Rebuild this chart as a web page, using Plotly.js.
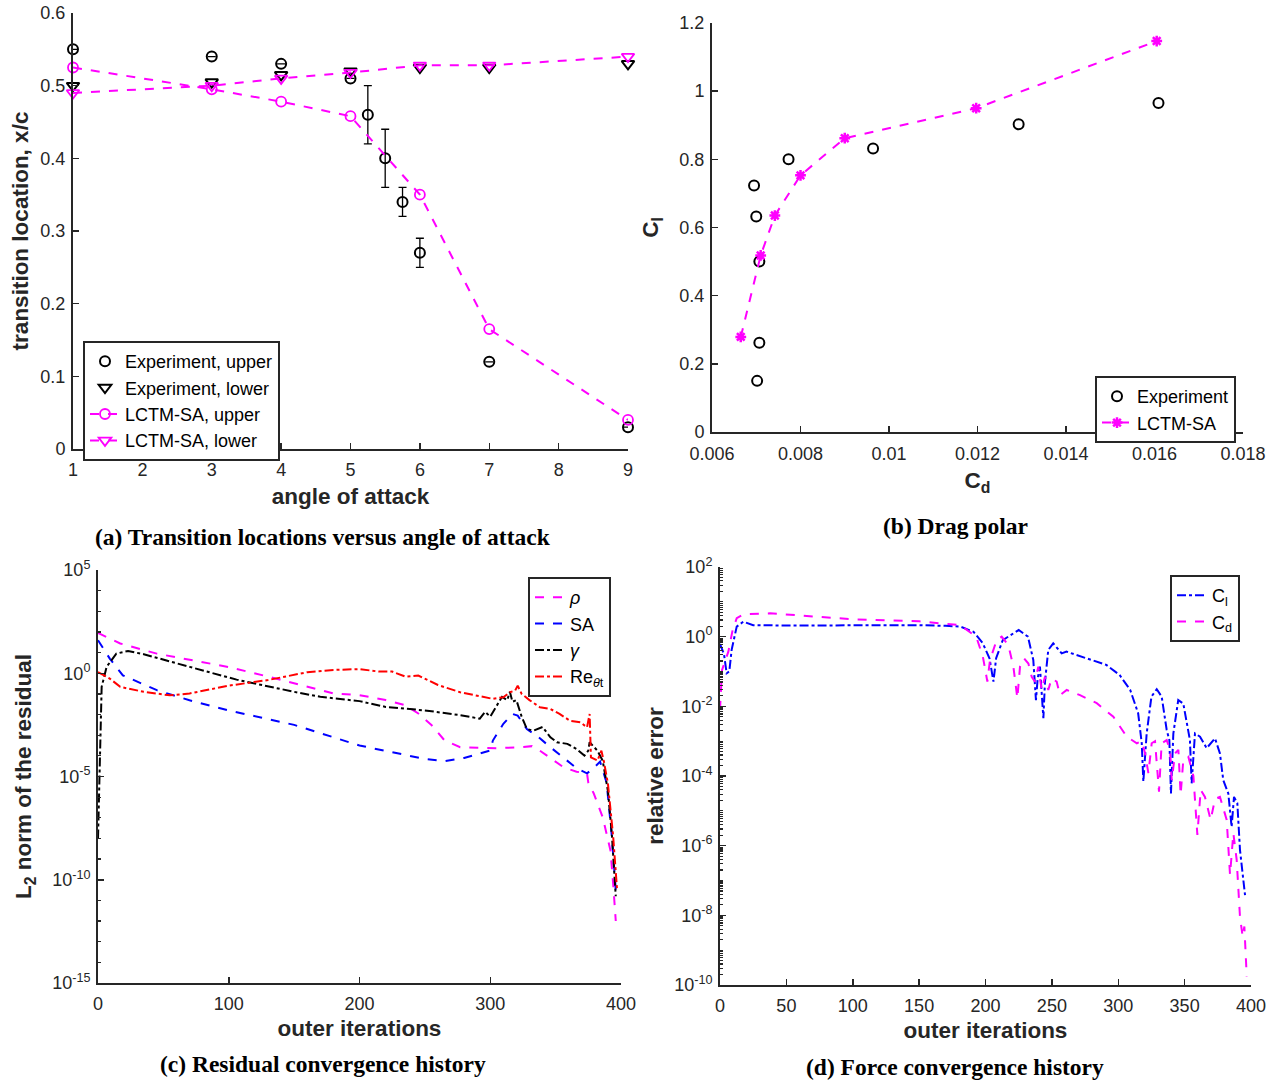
<!DOCTYPE html>
<html><head><meta charset="utf-8">
<script src="https://cdn.plot.ly/plotly-3.0.1.min.js"></script>
<style>body{margin:0;background:#fff}#chart{width:1283px;height:1083px}</style>
</head><body><div id="chart"></div>
<script>
// ---------- (a) Transition locations versus angle of attack ----------
const aoaExpUpper = [1, 3, 4, 5, 5.25, 5.5, 5.75, 6, 7, 9];
const xcExpUpper  = [0.55, 0.54, 0.53, 0.51, 0.46, 0.40, 0.34, 0.27, 0.12, 0.03];
const errExpUpper = [0, 0, 0, 0, 0.04, 0.04, 0.02, 0.02, 0, 0];
const aoaExpLower = [1, 3, 4, 5, 6, 7, 9];
const xcExpLower  = [0.50, 0.505, 0.515, 0.52, 0.525, 0.525, 0.53];
const aoaLctm     = [1, 3, 4, 5, 6, 7, 9];
const xcLctmUpper = [0.525, 0.495, 0.478, 0.458, 0.35, 0.165, 0.04];
const xcLctmLower = [0.49, 0.50, 0.51, 0.518, 0.528, 0.528, 0.54];

// ---------- (b) Drag polar ----------
const cdExp  = [0.00695, 0.0070, 0.00707, 0.00707, 0.00702, 0.00773, 0.00964, 0.01293, 0.01609];
const clExp  = [0.7235, 0.632, 0.50, 0.262, 0.15, 0.80, 0.832, 0.903, 0.965];
const cdLctm = [0.00665, 0.0071, 0.00742, 0.0080, 0.0090, 0.01197, 0.01605];
const clLctm = [0.279, 0.518, 0.635, 0.753, 0.862, 0.95, 1.147];

// ---------- (c) Residual convergence history (log10 of residual) ----------
const rhoIter = [0,17,45,100,130,150,180,200,220,235,245,255,265,277,305,323,332,338,346,356,366,374,375,379,386,392,394,396];
const rhoLog  = [1.95,1.44,0.95,0.3,-0.16,-0.49,-0.98,-1.06,-1.3,-1.55,-1.95,-2.5,-3.25,-3.58,-3.63,-3.58,-3.53,-3.75,-4.1,-4.55,-4.77,-4.85,-5.3,-5.8,-6.97,-8.6,-10.2,-12.0];
const saIter = [0,9,19,45,70,100,150,200,250,265,280,300,302,310,317,321,328,337,346,356,366,374,379,384,389,393,396];
const saLog  = [1.6,0.71,-0.1,-0.82,-1.31,-1.8,-2.5,-3.5,-4.15,-4.26,-4.1,-3.74,-3.26,-2.45,-1.97,-2.05,-2.7,-3.1,-3.58,-4.07,-4.6,-4.85,-4.6,-4.28,-5.3,-7.9,-10.5];
const gamIter = [0,2.8,6.6,14,23,35,70,106,150,170,200,220,250,277,292,296,300,305,309,313,315,317,320,324,328,333,340,346,351,359,366,372,375,376,382,386,390,393,396];
const gamLog  = [-8.0,-0.66,0.31,0.95,1.08,0.92,0.31,-0.31,-0.9,-1.14,-1.35,-1.63,-1.8,-2.03,-2.2,-1.87,-2.1,-1.55,-1.14,-1.3,-0.9,-1.38,-1.3,-2.1,-2.7,-2.78,-2.6,-3.1,-3.34,-3.42,-3.67,-3.99,-3.75,-3.34,-3.75,-4.23,-5.7,-7.8,-10.8];
const retIter = [0,9,17,35,55,70,100,130,160,180,200,215,225,235,245,260,277,302,310,315,319,321,324,330,338,346,353,361,369,374,376,377,382,385,387,390,394,397];
const retLog  = [0.06,-0.26,-0.66,-0.9,-1.07,-0.98,-0.6,-0.33,0.05,0.16,0.2,0.08,0.08,-0.16,-0.11,-0.57,-0.92,-1.24,-1.16,-0.92,-0.84,-0.6,-1.0,-1.3,-1.65,-1.73,-1.97,-2.3,-2.38,-2.62,-1.97,-4.07,-4.23,-3.75,-4.3,-5.35,-7.9,-10.5];

// ---------- (d) Force convergence history (log10 of relative error) ----------
const clIter = [0,3,5,7,8.8,12.6,17.6,25,50,100,150,170,181,191,198,203,206,208,213,225,232,236,238,239.3,241,243.6,244.8,247.3,251,257.4,261,276,291,301,309,315,317.7,318.9,321.4,325,329,332.7,336.5,338.5,339.7,341.5,345.2,349,354,355.3,357.8,361.6,366.6,372.9,376.6,379.1,382.9,385.4,387.2,389.7,391.7,395.5];
const clLog  = [-0.21,-0.5,-1.05,-1.0,-0.37,0.29,0.43,0.33,0.32,0.33,0.33,0.31,0.29,0.14,-0.19,-0.62,-1.29,-0.62,-0.1,0.19,0.0,-0.67,-1.82,-1.2,-0.86,-2.34,-1.3,-0.38,-0.19,-0.48,-0.43,-0.62,-0.81,-1.1,-1.53,-2.2,-3.06,-4.16,-2.78,-1.72,-1.51,-1.72,-2.68,-2.97,-4.5,-2.78,-1.82,-1.92,-2.97,-4.21,-2.78,-2.87,-3.2,-2.92,-3.35,-4.12,-4.5,-5.46,-4.6,-4.78,-6.12,-7.42];
const cdIter = [0,1.5,6.3,9.5,12.6,17.6,37.7,55,85,100,150,181,193,198,201.4,203.4,208.4,212.2,217.2,221,224,226,229,232.3,234.8,237.3,239.8,242.3,244.8,247.3,249.8,253.6,256.1,261.2,271.2,283.8,296.3,306.4,314,317.7,320.2,322.7,325.2,327.7,330.7,332.7,336.5,339,340.3,342.8,345.3,347,349,352.8,356.6,359.6,362.1,365.3,369.6,372.9,376.6,381.7,384.2,386.7,389.2,391.7,393.7,395,396.8];
const cdLog  = [-2.1,-0.96,-0.43,0.19,0.53,0.64,0.67,0.62,0.53,0.5,0.44,0.33,0.0,-0.57,-1.29,-0.67,-0.1,0.0,-0.24,-0.86,-1.77,-0.86,-0.62,-0.77,-1.15,-1.29,-0.86,-1.53,-1.15,-1.53,-1.2,-1.29,-1.68,-1.53,-1.68,-1.91,-2.3,-2.87,-3.06,-3.0,-3.35,-3.92,-3.06,-3.0,-4.45,-3.06,-2.97,-3.25,-4.12,-3.35,-3.25,-4.54,-3.54,-3.45,-4.0,-5.69,-4.4,-4.6,-5.26,-4.66,-4.6,-5.26,-6.84,-5.64,-6.4,-8.04,-8.61,-8.32,-9.76];

const logTicksC = [-15, -10, -5, 0, 5];
const logTicksD = [-10, -8, -6, -4, -2, 0, 2];

const pow10 = a => a.map(v => Math.pow(10, v));
const MAG = '#ff00ff', BLU = '#0000ff', RED = '#ff0000', BLK = '#000000', AX = '#262626';

const traces = [
  // (a)
  {x: aoaExpUpper, y: xcExpUpper, xaxis: 'x', yaxis: 'y', legend: 'legend', name: 'Experiment, upper',
   mode: 'markers', marker: {symbol: 'circle-open', size: 10, color: BLK, line: {width: 2, color: BLK}},
   error_y: {type: 'data', array: errExpUpper, visible: true, color: BLK, thickness: 1.3, width: 4}, cliponaxis: false},
  {x: aoaExpLower, y: xcExpLower, xaxis: 'x', yaxis: 'y', legend: 'legend', name: 'Experiment, lower',
   mode: 'markers', marker: {symbol: 'triangle-down-open', size: 11, color: BLK, line: {width: 2, color: BLK}}, cliponaxis: false},
  {x: aoaLctm, y: xcLctmUpper, xaxis: 'x', yaxis: 'y', legend: 'legend', name: 'LCTM-SA, upper',
   mode: 'lines+markers', line: {color: MAG, width: 2, dash: 'dash'},
   marker: {symbol: 'circle-open', size: 10, color: MAG, line: {width: 1.8, color: MAG}}, cliponaxis: false},
  {x: aoaLctm, y: xcLctmLower, xaxis: 'x', yaxis: 'y', legend: 'legend', name: 'LCTM-SA, lower',
   mode: 'lines+markers', line: {color: MAG, width: 2, dash: 'dash'},
   marker: {symbol: 'triangle-down-open', size: 11, color: MAG, line: {width: 1.8, color: MAG}}, cliponaxis: false},
  // (b)
  {x: cdExp, y: clExp, xaxis: 'x2', yaxis: 'y2', legend: 'legend2', name: 'Experiment',
   mode: 'markers', marker: {symbol: 'circle-open', size: 10, color: BLK, line: {width: 2, color: BLK}}},
  {x: cdLctm, y: clLctm, xaxis: 'x2', yaxis: 'y2', legend: 'legend2', name: 'LCTM-SA',
   mode: 'lines+markers', line: {color: MAG, width: 2, dash: 'dash'},
   marker: {symbol: 'asterisk-open', size: 9, color: MAG, line: {width: 2.5, color: MAG}}},
  // (c)
  {x: rhoIter, y: pow10(rhoLog), xaxis: 'x3', yaxis: 'y3', legend: 'legend3', name: '<i>ρ</i>',
   mode: 'lines', line: {color: MAG, width: 2, dash: 'dash'}},
  {x: saIter, y: pow10(saLog), xaxis: 'x3', yaxis: 'y3', legend: 'legend3', name: 'SA',
   mode: 'lines', line: {color: BLU, width: 2, dash: 'dash'}},
  {x: gamIter, y: pow10(gamLog), xaxis: 'x3', yaxis: 'y3', legend: 'legend3', name: '<i>γ</i>',
   mode: 'lines', line: {color: BLK, width: 2, dash: 'dashdot'}},
  {x: retIter, y: pow10(retLog), xaxis: 'x3', yaxis: 'y3', legend: 'legend3', name: 'Re<sub><i>θ</i>t</sub>',
   mode: 'lines', line: {color: RED, width: 2, dash: 'dashdot'}},
  // (d)
  {x: clIter, y: pow10(clLog), xaxis: 'x4', yaxis: 'y4', legend: 'legend4', name: 'C<sub>l</sub>',
   mode: 'lines', line: {color: BLU, width: 2, dash: 'dashdot'}},
  {x: cdIter, y: pow10(cdLog), xaxis: 'x4', yaxis: 'y4', legend: 'legend4', name: 'C<sub>d</sub>',
   mode: 'lines', line: {color: MAG, width: 2, dash: 'dash'}}
];

const tickFont = {family: 'Liberation Sans, Arial, sans-serif', size: 18, color: AX};
const titleFont = {family: 'Liberation Sans, Arial, sans-serif', size: 22.5, color: AX};
const baseAx = {showline: true, linecolor: AX, linewidth: 2, ticks: 'inside', tickcolor: AX, ticklen: 6, tickwidth: 1.5,
  showgrid: false, zeroline: false, mirror: false, tickfont: tickFont};
const ax = o => Object.assign({}, baseAx, o);
const W = 1283, H = 1083;
const px = v => v / W, py = v => (H - v) / H;
const legendBase = {bgcolor: '#ffffff', bordercolor: AX, borderwidth: 2, font: {family: 'Liberation Sans, Arial, sans-serif', size: 18, color: '#000'},
  xanchor: 'left', yanchor: 'top', tracegroupgap: 0, itemwidth: 30};
const lg = o => Object.assign({}, legendBase, o);
const supTxt = e => '10<sup>' + e + '</sup>';

const layout = {
  width: W, height: H, margin: {l: 0, r: 0, t: 0, b: 0}, paper_bgcolor: '#fff', plot_bgcolor: '#fff',
  showlegend: true,
  xaxis: ax({domain: [px(73), px(628)], range: [1, 9], dtick: 1, anchor: 'y', ticklabelstandoff: 3,
    title: {text: '<b>angle of attack</b>', font: titleFont, standoff: 10}}),
  yaxis: ax({domain: [py(449), py(13)], range: [0, 0.6], dtick: 0.1, anchor: 'x', ticklabelstandoff: 2,
    title: {text: '<b>transition location, x/c</b>', font: titleFont, standoff: 5}}),
  xaxis2: ax({domain: [px(712), px(1243)], range: [0.006, 0.018], dtick: 0.002, anchor: 'y2', ticklabelstandoff: 4,
    title: {text: '<b>C<sub>d</sub></b>', font: titleFont, standoff: 10}}),
  yaxis2: ax({domain: [py(432), py(23)], range: [0, 1.2], dtick: 0.2, anchor: 'x2', ticklabelstandoff: 2,
    title: {text: '<b>C<sub>l</sub></b>', font: titleFont, standoff: 14}}),
  xaxis3: ax({domain: [px(98), px(621)], range: [0, 400], dtick: 100, anchor: 'y3', ticklabelstandoff: 3,
    title: {text: '<b>outer iterations</b>', font: titleFont, standoff: 8}}),
  yaxis3: ax({domain: [py(983), py(570)], type: 'log', range: [-15, 5], anchor: 'x3', ticklabelstandoff: 2,
    tickmode: 'array', tickvals: pow10(logTicksC), ticktext: logTicksC.map(supTxt),
    minor: {dtick: 1, ticks: 'inside', ticklen: 3, tickcolor: AX, tickwidth: 1.2},
    title: {text: '<b>L<sub>2</sub> norm of the residual</b>', font: titleFont, standoff: 14}}),
  xaxis4: ax({domain: [px(720), px(1251)], range: [0, 400], dtick: 50, anchor: 'y4', ticklabelstandoff: 3,
    title: {text: '<b>outer iterations</b>', font: titleFont, standoff: 8}}),
  yaxis4: ax({domain: [py(985), py(567)], type: 'log', range: [-10, 2], anchor: 'x4', ticklabelstandoff: 2,
    tickmode: 'array', tickvals: pow10(logTicksD), ticktext: logTicksD.map(supTxt),
    minor: {dtick: 'D1', ticks: 'inside', ticklen: 3, tickcolor: AX, tickwidth: 1.2},
    title: {text: '<b>relative error</b>', font: titleFont, standoff: 4}}),
  legend: lg({x: px(83), y: py(341)}),
  legend2: lg({x: px(1095), y: py(376)}),
  legend3: lg({x: px(528), y: py(577)}),
  legend4: lg({x: px(1170), y: py(575)}),
  annotations: [
    {text: '<b>(a) Transition locations versus angle of attack</b>', x: px(323), y: py(537)},
    {text: '<b>(b) Drag polar</b>', x: px(955), y: py(526)},
    {text: '<b>(c) Residual convergence history</b>', x: px(323), y: py(1064)},
    {text: '<b>(d) Force convergence history</b>', x: px(955), y: py(1067)}
  ].map(a => Object.assign({xref: 'paper', yref: 'paper', xanchor: 'center', yanchor: 'middle', showarrow: false,
    font: {family: 'Liberation Serif, Times New Roman, serif', size: 23.5, color: '#000'}}, a))
};

Plotly.newPlot('chart', traces, layout, {staticPlot: true, displayModeBar: false});
</script>
</body></html>
